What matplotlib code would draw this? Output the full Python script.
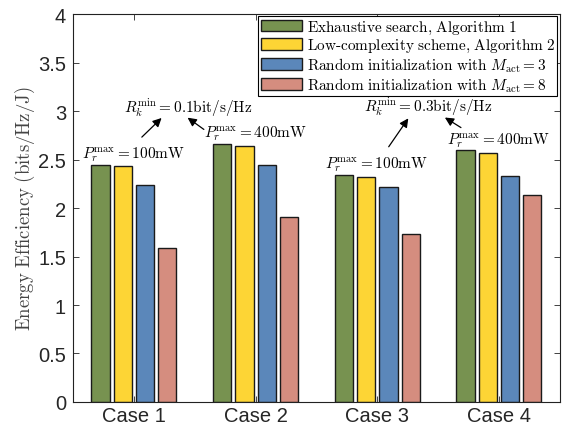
import matplotlib
matplotlib.use("Agg")
import matplotlib.pyplot as plt
import numpy as np

plt.rcParams['mathtext.fontset'] = 'cm'

cases = ["Case 1", "Case 2", "Case 3", "Case 4"]
series_names = [r"$\mathrm{Exhaustive\ search{,}\ Algorithm\ 1}$",
                r"$\mathrm{Low\text{-}complexity\ scheme{,}\ Algorithm\ 2}$",
                r"$\mathrm{Random\ initialization\ with\ }M_{\mathrm{act}}=3$",
                r"$\mathrm{Random\ initialization\ with\ }M_{\mathrm{act}}=8$"]
exhaustive = [2.44, 2.66, 2.34, 2.60]
low_complexity = [2.43, 2.64, 2.32, 2.57]
random_m3 = [2.24, 2.44, 2.22, 2.33]
random_m8 = [1.59, 1.91, 1.73, 2.13]
yticks = [0, 0.5, 1, 1.5, 2, 2.5, 3, 3.5, 4]
ytick_labels = ["0", "0.5", "1", "1.5", "2", "2.5", "3", "3.5", "4"]

colors = ["#779250", "#FDD535", "#5B87BA", "#D58D7F"]

fig = plt.figure(figsize=(5.62, 4.31), dpi=100)
ax = fig.add_axes([0.130, 0.065, 0.866, 0.900])

x = np.arange(1, len(cases) + 1)
width = 0.15
pitch = 0.183
all_series = [exhaustive, low_complexity, random_m3, random_m8]
for i, (vals, c, name) in enumerate(zip(all_series, colors, series_names)):
    off = (i - 1.5) * pitch
    ax.bar(x + off, vals, width, color=c, edgecolor="#1a1a1a", linewidth=1.0, label=name, zorder=2)

ax.set_xlim(0.5, 4.5)
ax.set_ylim(0, 4)
ax.set_xticks(x)
ax.set_xticklabels(cases, fontsize=14.5, family="Liberation Sans", color="#262626")
ax.set_yticks(yticks)
ax.set_yticklabels(ytick_labels, fontsize=14.5, family="Liberation Sans", color="#262626")
ax.tick_params(direction="in", top=True, right=True, length=4, width=0.6, colors="#222222")
ax.tick_params(axis="x", pad=3, labelcolor="#262626")
ax.tick_params(axis="y", pad=5, labelcolor="#262626")
for s in ax.spines.values():
    s.set_linewidth(0.8)
    s.set_color("#222222")
ax.set_ylabel(r"$\mathrm{Energy\ Efficiency\ (bits/Hz/J)}$", fontsize=13.5, color="#444444")
ax.yaxis.set_label_coords(-0.075, 0.5)

leg = ax.legend(loc="upper right", fontsize=11, frameon=True, fancybox=False,
                edgecolor="black", framealpha=1, borderpad=0.15, handlelength=2.7,
                handleheight=0.8, handletextpad=0.3, labelspacing=0.08,
                borderaxespad=0.15)
leg.get_frame().set_linewidth(0.8)

def px2d(px, py):
    return 1 + (px - 134) / 123.0, (403 - py) / 97.0

ann_fs = 11
arrow = dict(arrowstyle="-|>", color="black", lw=0.9, mutation_scale=13)

# Group annotations 1
ax.text(*px2d(189, 108), r"$R_k^{\min}=0.1\mathrm{bit/s/Hz}$", fontsize=ann_fs, ha="center", va="center")
ax.annotate("", xy=px2d(164, 117), xytext=px2d(140, 140), arrowprops=arrow)
ax.annotate("", xy=px2d(186, 117), xytext=px2d(207, 132), arrowprops=arrow)
ax.text(*px2d(133, 155), r"$P_r^{\max}=100\mathrm{mW}$", fontsize=ann_fs, ha="center", va="center")
ax.text(*px2d(257, 133), r"$P_r^{\max}=400\mathrm{mW}$", fontsize=ann_fs, ha="center", va="center")

# Group annotations 2
ax.text(*px2d(432, 107), r"$R_k^{\min}=0.3\mathrm{bit/s/Hz}$", fontsize=ann_fs, ha="center", va="center")
ax.annotate("", xy=px2d(413, 117), xytext=px2d(390, 150), arrowprops=arrow)
ax.annotate("", xy=px2d(446, 117), xytext=px2d(467, 130), arrowprops=arrow)
ax.text(*px2d(379, 165), r"$P_r^{\max}=100\mathrm{mW}$", fontsize=ann_fs, ha="center", va="center")
ax.text(*px2d(502, 140), r"$P_r^{\max}=400\mathrm{mW}$", fontsize=ann_fs, ha="center", va="center")

fig.savefig("out.png", dpi=100)
